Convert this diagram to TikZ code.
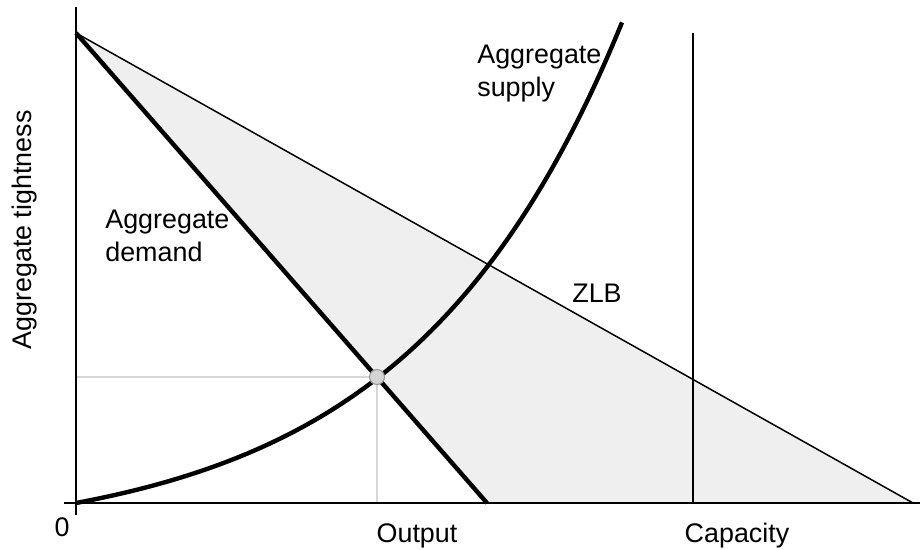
\documentclass[tikz,border=0pt]{standalone}
\usepackage{fontspec}
\setmainfont{Liberation Sans}
\begin{document}
\begin{tikzpicture}[x=0.02cm,y=-0.02cm,
  lbl/.style={inner sep=0pt,font=\fontsize{15.3pt}{18.8pt}\selectfont},
  thickcurve/.style={line width=2.5pt},
  thinline/.style={line width=0.85pt},
  guide/.style={line width=0.7pt,draw={rgb,255:red,215;green,215;blue,215}}]
\useasboundingbox (0,0) rectangle (921,550);
\coordinate (O) at (76,503);
\coordinate (Ytop) at (76,7);
\coordinate (Ybot) at (76,515);
\coordinate (Xleft) at (64,503);
\coordinate (Xright) at (920,503);
\coordinate (A) at (76,33);
\coordinate (ADend) at (487,503);
\coordinate (ZLBend) at (913,503);
\coordinate (E) at (377,377);
\coordinate (Ey) at (76,377);
\coordinate (Ex) at (377,503);
\coordinate (Ctop) at (693,33);
\coordinate (Cbot) at (693,503);
% shaded region
\fill[fill={rgb,255:red,239;green,239;blue,239}] (A) -- (ADend) -- (ZLBend) -- cycle;
% guides
\draw[guide] (Ey) -- (E) -- (Ex);
% ZLB
\draw[thinline] (A) -- (ZLBend);
% capacity
\draw[thinline] (Ctop) -- (Cbot);
% axes
\draw[thinline] (Ytop) -- (Ybot);
\draw[thinline] (Xleft) -- (Xright);
% aggregate demand
\draw[thickcurve] (A) -- (ADend);
% aggregate supply
\draw[thickcurve] plot[domain=76:622,samples=120,smooth] (\x,{503-40*(exp(0.0047*(\x-76))-1)});
% equilibrium dot
\node[circle,minimum size=0.3cm,inner sep=0pt,fill={rgb,255:red,212;green,212;blue,212},draw={rgb,255:red,150;green,150;blue,150},line width=0.6pt] (dot) at (E) {};
% labels
\node[lbl,align=left,anchor=north west] (ASl) at (477,45) {Aggregate\\supply};
\node[lbl,align=left,anchor=north west] (ADl) at (105,210) {Aggregate\\demand};
\node[lbl] (zlb) at (597,293) {ZLB};
\node[lbl] (zero) at (62,527) {0};
\node[lbl] (out) at (417,536) {Output};
\node[lbl] (cap) at (737,536) {Capacity};
\node[lbl,rotate=90] (ylab) at (25,230) {Aggregate tightness};
\end{tikzpicture}
\end{document}
